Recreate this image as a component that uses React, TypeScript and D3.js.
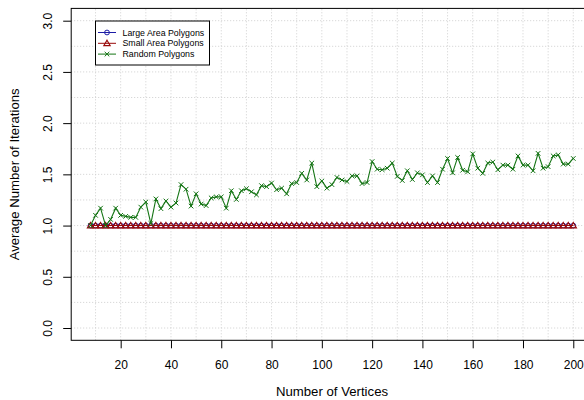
import React, { useEffect, useRef } from 'react'
import * as d3 from 'd3'

// number of vertices (x)
const vertices = [
  8, 10, 12, 14, 16, 18, 20, 22, 24, 26, 28, 30, 32, 34, 36, 38, 40, 42, 44, 46,
  48, 50, 52, 54, 56, 58, 60, 62, 64, 66, 68, 70, 72, 74, 76, 78, 80, 82, 84, 86,
  88, 90, 92, 94, 96, 98, 100, 102, 104, 106, 108, 110, 112, 114, 116, 118, 120,
  122, 124, 126, 128, 130, 132, 134, 136, 138, 140, 142, 144, 146, 148, 150, 152,
  154, 156, 158, 160, 162, 164, 166, 168, 170, 172, 174, 176, 178, 180, 182, 184,
  186, 188, 190, 192, 194, 196, 198, 200,
]

const largeArea = [
  1, 1, 1, 1, 1, 1, 1, 1, 1, 1, 1, 1, 1, 1, 1, 1, 1, 1, 1, 1,
  1, 1, 1, 1, 1, 1, 1, 1, 1, 1, 1, 1, 1, 1, 1, 1, 1, 1, 1, 1,
  1, 1, 1, 1, 1, 1, 1, 1, 1, 1, 1, 1, 1, 1, 1, 1, 1, 1, 1, 1,
  1, 1, 1, 1, 1, 1, 1, 1, 1, 1, 1, 1, 1, 1, 1, 1, 1, 1, 1, 1,
  1, 1, 1, 1, 1, 1, 1, 1, 1, 1, 1, 1, 1, 1, 1, 1, 1,
]

const smallArea = [
  1, 1, 1, 1, 1, 1, 1, 1, 1, 1, 1, 1, 1, 1, 1, 1, 1, 1, 1, 1,
  1, 1, 1, 1, 1, 1, 1, 1, 1, 1, 1, 1, 1, 1, 1, 1, 1, 1, 1, 1,
  1, 1, 1, 1, 1, 1, 1, 1, 1, 1, 1, 1, 1, 1, 1, 1, 1, 1, 1, 1,
  1, 1, 1, 1, 1, 1, 1, 1, 1, 1, 1, 1, 1, 1, 1, 1, 1, 1, 1, 1,
  1, 1, 1, 1, 1, 1, 1, 1, 1, 1, 1, 1, 1, 1, 1, 1, 1,
]

const randomPoly = [
  1.0, 1.1, 1.17, 1.0, 1.06, 1.17, 1.1, 1.09, 1.08, 1.08, 1.18, 1.23, 1.02, 1.26,
  1.165, 1.24, 1.18, 1.22, 1.4, 1.355, 1.19, 1.31, 1.21, 1.195, 1.27, 1.28, 1.28,
  1.17, 1.34, 1.255, 1.34, 1.36, 1.33, 1.3, 1.39, 1.38, 1.415, 1.35, 1.365, 1.31,
  1.41, 1.42, 1.51, 1.445, 1.61, 1.38, 1.435, 1.365, 1.4, 1.47, 1.445, 1.43,
  1.485, 1.485, 1.41, 1.42, 1.625, 1.55, 1.545, 1.56, 1.61, 1.48, 1.44, 1.535,
  1.45, 1.515, 1.495, 1.42, 1.485, 1.42, 1.55, 1.655, 1.515, 1.665, 1.54, 1.525,
  1.7, 1.56, 1.51, 1.61, 1.62, 1.545, 1.59, 1.59, 1.55, 1.68, 1.59, 1.59, 1.535,
  1.705, 1.56, 1.575, 1.68, 1.69, 1.6, 1.6, 1.655,
]

const xTicks = [20, 40, 60, 80, 100, 120, 140, 160, 180, 200]
const yTicks = [0, 0.5, 1, 1.5, 2, 2.5, 3]
const xGrid = [10, 20, 30, 40, 50, 60, 70, 80, 90, 100, 110, 120, 130, 140, 150, 160, 170, 180, 190, 200]
const yGrid = [0, 0.25, 0.5, 0.75, 1, 1.25, 1.5, 1.75, 2, 2.25, 2.5, 2.75, 3]

const seriesNames = ['Large Area Polygons', 'Small Area Polygons', 'Random Polygons']
const seriesColors = ['#1c1ca6', '#990a0a', '#147414']

const W = 584
const H = 400
const FONT = '"Liberation Sans", Arial, Helvetica, sans-serif'

export default function App() {
  const ref = useRef<SVGSVGElement>(null)

  useEffect(() => {
    document.body.style.margin = '0'
    const svg = d3.select(ref.current)
    svg.selectAll('*').remove()

    // R-style 4% padded domains
    const x = d3.scaleLinear().domain([0.32, 207.68]).range([71.2, 592.6])
    const y = d3.scaleLinear().domain([-0.12, 3.12]).range([340.3, 8.4])

    // grid
    const grid = svg.append('g')
    xGrid.forEach(v => {
      grid.append('line')
        .attr('x1', x(v)).attr('x2', x(v))
        .attr('y1', y(-0.12)).attr('y2', y(3.12))
        .attr('stroke', '#cfcfcf').attr('stroke-width', 1)
        .attr('stroke-dasharray', '1,2')
    })
    yGrid.forEach(v => {
      grid.append('line')
        .attr('x1', x(0.32)).attr('x2', x(207.68))
        .attr('y1', y(v)).attr('y2', y(v))
        .attr('stroke', '#cfcfcf').attr('stroke-width', 1)
        .attr('stroke-dasharray', '1,2')
    })

    // box
    svg.append('rect')
      .attr('x', x(0.32)).attr('y', y(3.12))
      .attr('width', x(207.68) - x(0.32)).attr('height', y(-0.12) - y(3.12))
      .attr('fill', 'none').attr('stroke', '#000').attr('stroke-width', 1)

    // axes
    const xAxis = svg.append('g').attr('transform', `translate(0,${y(-0.12)})`)
      .call(d3.axisBottom(x).tickValues(xTicks).tickSize(8).tickPadding(12).tickFormat(d3.format('d')))
    xAxis.select('.domain').remove()
    xAxis.selectAll('text').attr('font-family', FONT).attr('font-size', 12).attr('fill', '#000')

    const yAxis = svg.append('g').attr('transform', `translate(${x(0.32)},0)`)
      .call(d3.axisLeft(y).tickValues(yTicks).tickSize(8).tickFormat(d3.format('.1f')))
    yAxis.select('.domain').remove()
    yAxis.selectAll('.tick text')
      .attr('font-family', FONT).attr('font-size', 12).attr('fill', '#000')
      .attr('x', null).attr('dy', null)
      .attr('text-anchor', 'middle')
      .attr('transform', 'translate(-23.5,0) rotate(-90)')
      .attr('y', 0)
      .attr('dominant-baseline', 'central')

    svg.append('text')
      .attr('x', 332).attr('y', 396)
      .attr('text-anchor', 'middle')
      .attr('font-family', FONT).attr('font-size', 13.2)
      .text('Number of Vertices')

    svg.append('text')
      .attr('transform', `translate(19,${y(1.5)}) rotate(-90)`)
      .attr('text-anchor', 'middle')
      .attr('font-family', FONT).attr('font-size', 13.2)
      .text('Average Number of Iterations')

    const line = d3.line<number>().x((_, i) => x(vertices[i])).y(d => y(d))

    const drawMarker = (g: d3.Selection<SVGGElement, unknown, null, undefined>, kind: number, cx: number, cy: number, color: string) => {
      if (kind === 0) {
        g.append('circle').attr('cx', cx).attr('cy', cy).attr('r', 2.4)
          .attr('fill', 'none').attr('stroke', color).attr('stroke-width', 1)
      } else if (kind === 1) {
        const s = 3.1
        g.append('path')
          .attr('d', `M${cx},${cy - s}L${cx + s},${cy + s * 0.72}L${cx - s},${cy + s * 0.72}Z`)
          .attr('fill', 'none').attr('stroke', color).attr('stroke-width', 1.2)
      } else {
        const s = 2.3
        g.append('path')
          .attr('d', `M${cx - s},${cy - s}L${cx + s},${cy + s}M${cx - s},${cy + s}L${cx + s},${cy - s}`)
          .attr('fill', 'none').attr('stroke', color).attr('stroke-width', 1)
      }
    }

    const series = [largeArea, smallArea, randomPoly]
    series.forEach((vals, k) => {
      const g = svg.append('g')
      g.append('path').datum(vals).attr('d', line)
        .attr('fill', 'none').attr('stroke', seriesColors[k]).attr('stroke-width', 1.1)
      vals.forEach((v, i) => drawMarker(g, k, x(vertices[i]), y(v), seriesColors[k]))
    })

    // legend
    const lg = svg.append('g')
    lg.append('rect').attr('x', 95.5).attr('y', 21).attr('width', 114).attr('height', 44)
      .attr('fill', '#fff').attr('stroke', '#000').attr('stroke-width', 1)
    seriesNames.forEach((name, k) => {
      const ly = 32.5 + k * 10.8
      lg.append('line').attr('x1', 98).attr('x2', 116).attr('y1', ly).attr('y2', ly)
        .attr('stroke', seriesColors[k]).attr('stroke-width', 1)
      drawMarker(lg, k, 107, ly, seriesColors[k])
      lg.append('text').attr('x', 122.5).attr('y', ly).attr('dy', '0.35em')
        .attr('font-family', FONT).attr('font-size', 8.8).text(name)
    })
  }, [])

  return <svg ref={ref} width={W} height={H} style={{ display: 'block', background: '#fff' }} />
}
